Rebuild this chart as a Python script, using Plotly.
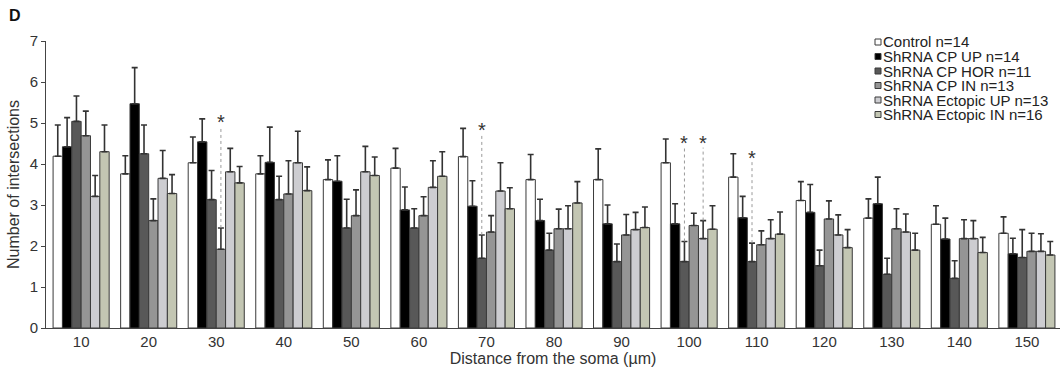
import plotly.graph_objects as go

# ---------------- data ----------------
distances = [10, 20, 30, 40, 50, 60, 70, 80, 90, 100, 110, 120, 130, 140, 150]

series_names = ["Control n=14", "ShRNA CP UP n=14", "ShRNA CP HOR n=11",
                "ShRNA CP IN n=13", "ShRNA Ectopic UP n=13", "ShRNA Ectopic IN n=16"]

control = [4.19, 3.76, 4.03, 3.76, 3.62, 3.90, 4.18, 3.62, 3.62, 4.03, 3.68, 3.11, 2.68, 2.53, 2.31]
control_sem = [0.76, 0.44, 0.63, 0.44, 0.48, 0.48, 0.69, 0.61, 0.75, 0.58, 0.57, 0.46, 0.47, 0.45, 0.40]

cp_up = [4.42, 5.47, 4.54, 4.04, 3.58, 2.88, 2.97, 2.62, 2.54, 2.54, 2.69, 2.82, 3.03, 2.17, 1.81]
cp_up_sem = [0.71, 0.88, 0.56, 0.86, 0.62, 0.56, 0.62, 0.52, 0.46, 0.49, 0.52, 0.68, 0.65, 0.51, 0.38]

cp_hor = [5.04, 4.25, 3.13, 3.13, 2.44, 2.44, 1.70, 1.90, 1.62, 1.62, 1.62, 1.52, 1.31, 1.21, 1.72]
cp_hor_sem = [0.62, 0.70, 0.71, 0.57, 0.70, 0.47, 0.57, 0.41, 0.43, 0.49, 0.45, 0.38, 0.39, 0.43, 0.68]

cp_in = [4.69, 2.62, 1.92, 3.27, 2.74, 2.74, 2.34, 2.42, 2.27, 2.50, 2.03, 2.66, 2.42, 2.18, 1.87]
cp_in_sem = [0.60, 0.53, 0.52, 0.81, 0.63, 0.46, 0.40, 0.48, 0.50, 0.30, 0.34, 0.44, 0.49, 0.46, 0.44]

ect_up = [3.21, 3.65, 3.81, 4.03, 3.81, 3.43, 3.34, 2.42, 2.40, 2.18, 2.18, 2.27, 2.34, 2.18, 1.87]
ect_up_sem = [0.51, 0.68, 0.57, 0.77, 0.62, 0.65, 0.69, 0.56, 0.42, 0.44, 0.46, 0.49, 0.44, 0.44, 0.43]

ect_in = [4.30, 3.28, 3.54, 3.35, 3.72, 3.70, 2.91, 3.05, 2.45, 2.41, 2.29, 1.96, 1.90, 1.84, 1.78]
ect_in_sem = [0.65, 0.46, 0.40, 0.58, 0.45, 0.60, 0.51, 0.52, 0.50, 0.57, 0.54, 0.44, 0.41, 0.37, 0.33]

# significance marks: (distance, series index, height of asterisk)
sig_distance = [30, 70, 100, 100, 110]
sig_series = [3, 2, 2, 4, 2]
sig_height = [5.1, 4.9, 4.58, 4.58, 4.23]

y_ticks = [0, 1, 2, 3, 4, 5, 6, 7]

# ---------------- styling ----------------
means = [control, cp_up, cp_hor, cp_in, ect_up, ect_in]
sems = [control_sem, cp_up_sem, cp_hor_sem, cp_in_sem, ect_up_sem, ect_in_sem]
colors = ["#ffffff", "#000000", "#585858", "#959595", "#cdcdd1", "#c3c6b3"]
outline = "#3a3a3a"
FONT = "Arial, Liberation Sans, sans-serif"
BARGAP = 0.17
STEP = 10

W, H = 1063, 368
ML, MR, MT, MB = 46, 3, 41, 40
X_RANGE = [4.8, 154.9]

fig = go.Figure()
for name, m, s, c in zip(series_names, means, sems, colors):
    fig.add_trace(go.Bar(
        x=distances, y=m, name=name,
        marker=dict(color=c, line=dict(color=outline, width=1)),
        error_y=dict(type="data", array=s, arrayminus=[0] * len(s), symmetric=False,
                     color="#333333", thickness=1.6, width=3),
        showlegend=False,
    ))

# asterisks with dotted guide lines
n_series = len(series_names)
bar_w = STEP * (1 - BARGAP) / n_series
for d, si, h in zip(sig_distance, sig_series, sig_height):
    gi = distances.index(d)
    xc = d + (si - (n_series - 1) / 2) * bar_w
    y0 = means[si][gi] + sems[si][gi]
    fig.add_shape(type="line", xref="x", yref="y", x0=xc, x1=xc, y0=y0, y1=h - 0.18,
                  line=dict(color="#9a9a9a", width=1, dash="dot"))
    fig.add_annotation(x=xc, y=h, xref="x", yref="y", text="*", showarrow=False,
                       font=dict(family=FONT, size=20, color="#333333"),
                       yanchor="middle", yshift=-3)

# custom legend (top-right), built from the series list
plot_w = W - ML - MR
plot_h = H - MT - MB
def px_to_paper_x(px):
    return (px - ML) / plot_w
def px_to_paper_y(py):
    return (H - MB - py) / plot_h

leg_x_marker = 878
leg_y0 = 42
leg_dy = 14.5
for i, (name, c) in enumerate(zip(series_names, colors)):
    yc = leg_y0 + i * leg_dy
    fig.add_shape(type="rect", xref="paper", yref="paper",
                  x0=px_to_paper_x(leg_x_marker - 3), x1=px_to_paper_x(leg_x_marker + 3),
                  y0=px_to_paper_y(yc + 3), y1=px_to_paper_y(yc - 3),
                  fillcolor=c, line=dict(color=outline, width=1))
    fig.add_annotation(x=px_to_paper_x(leg_x_marker + 3), y=px_to_paper_y(yc),
                       xref="paper", yref="paper", text=name, showarrow=False,
                       xanchor="left", yanchor="middle",
                       font=dict(family=FONT, size=15, color="#222222"))

# panel label
fig.add_annotation(x=px_to_paper_x(7), y=px_to_paper_y(15), xref="paper", yref="paper",
                   text="<b>D</b>", showarrow=False, xanchor="left", yanchor="middle",
                   font=dict(family=FONT, size=16, color="#111111"))

fig.update_layout(
    width=W, height=H,
    margin=dict(l=ML, r=MR, t=MT, b=MB, pad=0, autoexpand=False),
    barmode="group", bargap=BARGAP, bargroupgap=0,
    plot_bgcolor="white", paper_bgcolor="white",
    font=dict(family=FONT, size=15, color="#333333"),
    hovermode=False,
    xaxis=dict(range=X_RANGE, tickvals=distances, ticktext=[str(d) for d in distances],
               showline=True, linecolor="#444444", linewidth=1, ticks="", showgrid=False,
               zeroline=False, automargin=False, tickfont=dict(size=15, color="#333333"),
               title=dict(text="Distance from the soma (µm)", standoff=1,
                          font=dict(size=16, color="#333333"))),
    yaxis=dict(range=[0, 7], tickvals=y_ticks, showline=True, linecolor="#444444",
               linewidth=1, ticks="outside", ticklen=4, tickcolor="#444444",
               showgrid=False, zeroline=False, automargin=False,
               tickfont=dict(size=15, color="#333333"),
               title=dict(text="Number of intersections", standoff=6,
                          font=dict(size=16, color="#333333"))),
)

fig.write_html("out.html", config={"displayModeBar": False, "staticPlot": True},
               post_script="document.body.style.margin='0';")
